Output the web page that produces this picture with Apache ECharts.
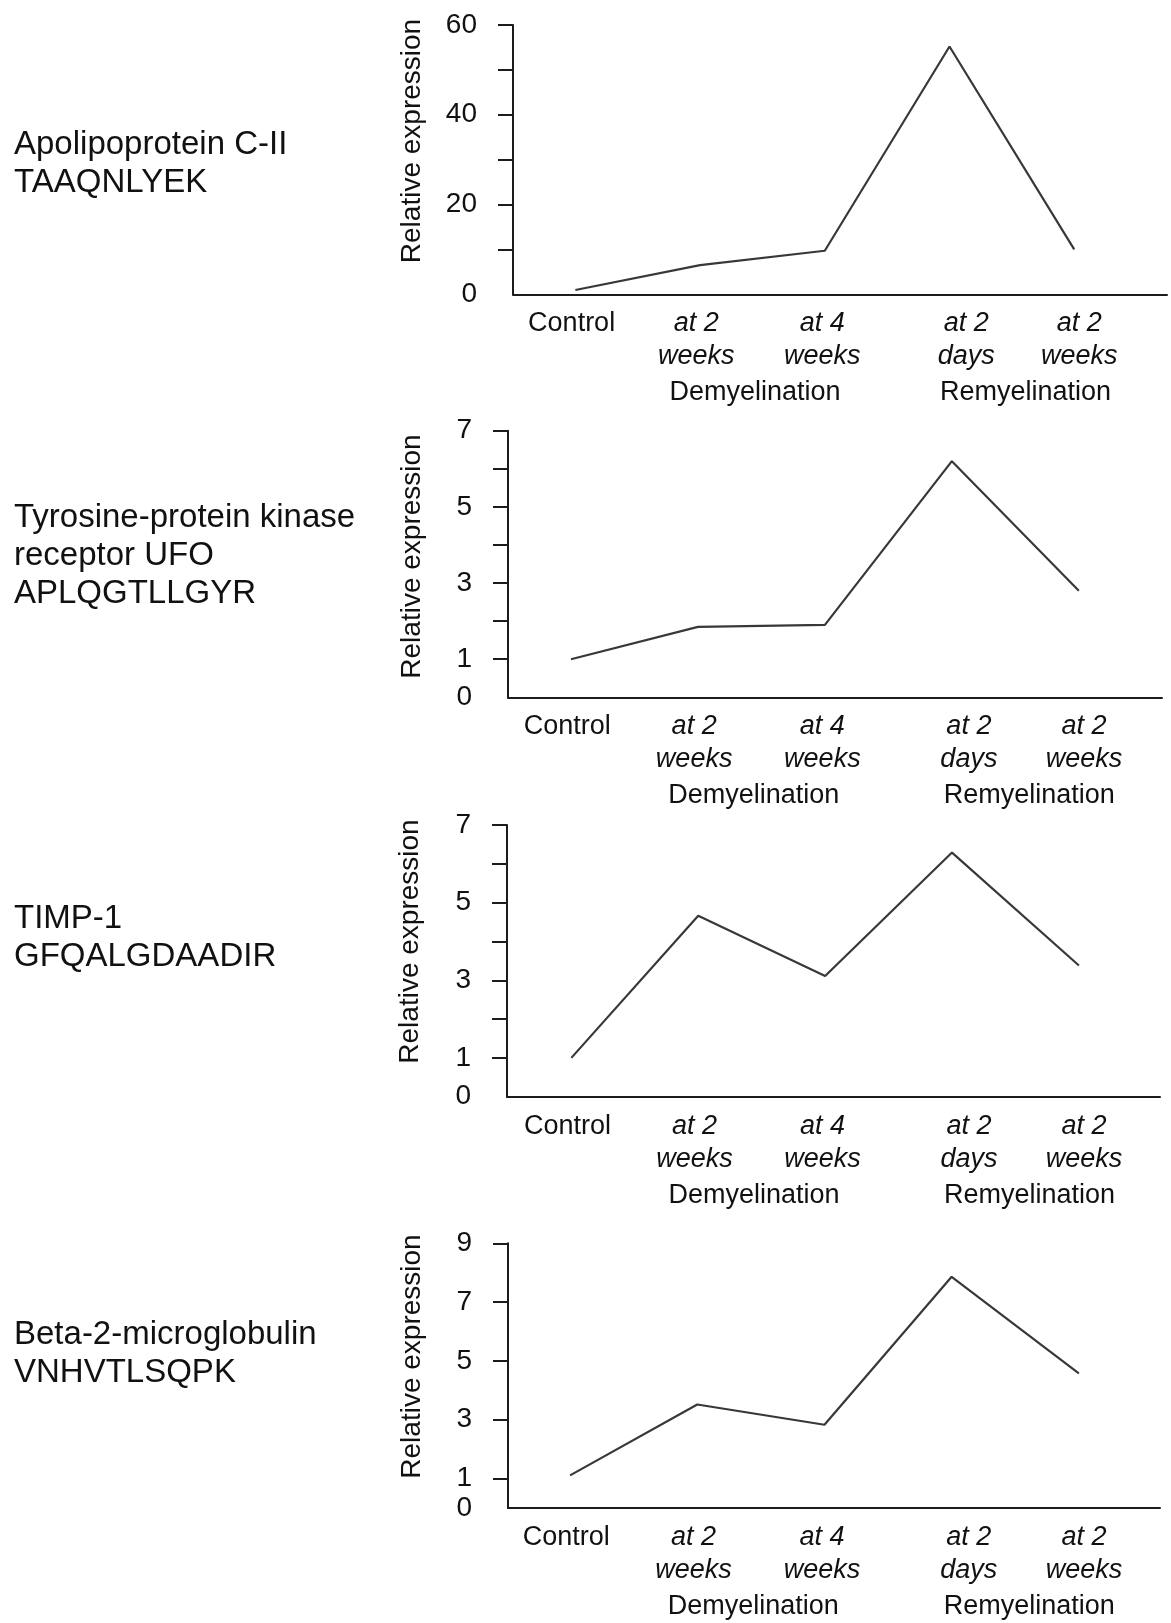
<!DOCTYPE html>
<html><head><meta charset="utf-8">
<script src="https://cdn.jsdelivr.net/npm/echarts@6/dist/echarts.min.js"></script>
<style>html,body{margin:0;padding:0;background:#fff}#c{width:1171px;height:1623px}</style>
</head><body><div id="c"></div>
<script>
// ---------- data ----------
const categories = ['Control', 'at 2\nweeks', 'at 4\nweeks', 'at 2\ndays', 'at 2\nweeks'];
const groups = ['Demyelination', 'Remyelination'];
const proteinNames = [
  'Apolipoprotein C-II\nTAAQNLYEK',
  'Tyrosine-protein kinase\nreceptor UFO\nAPLQGTLLGYR',
  'TIMP-1\nGFQALGDAADIR',
  'Beta-2-microglobulin\nVNHVTLSQPK'
];
const apoC2 = [0.96, 6.5, 9.7, 55.2, 10.0];
const ufo = [1.0, 1.85, 1.9, 6.2, 2.8];
const timp1 = [1.0, 4.66, 3.11, 6.29, 3.38];
const b2m = [1.11, 3.52, 2.83, 7.86, 4.58];
const yMax = [60, 7, 7, 9];
const yInterval = [10, 1, 1, 1];
const yTickValues = [[10, 20, 30, 40, 50, 60], [1, 2, 3, 4, 5, 6, 7], [1, 2, 3, 4, 5, 6, 7], [1, 3, 5, 7, 9]];
const yTickLabels = [[0, 20, 40, 60], [0, 1, 3, 5, 7], [0, 1, 3, 5, 7], [0, 1, 3, 5, 7, 9]];
const yTitle = 'Relative expression';
const seriesData = [apoC2, ufo, timp1, b2m];

// ---------- layout (pixels / offsets, not data) ----------
const panels = [
  {left: 513, right: 4, top: 25, height: 269.3, xmin: -0.50, xmax: 4.744, titleTop: 126, yt: [412, 141]},
  {left: 508, right: 9, top: 430.7, height: 266.6, xmin: -0.496, xmax: 4.655, titleTop: 499, yt: [412, 556.5]},
  {left: 507, right: 11, top: 825, height: 271.7, xmin: -0.507, xmax: 4.639, titleTop: 900, yt: [410, 941.5]},
  {left: 508, right: 11, top: 1243.3, height: 268.2, xmin: -0.488, xmax: 4.638, titleTop: 1316, yt: [412, 1356.5]}
];
const labelShift = [-0.03, -0.03, -0.02, 0.134, 0.04];
const groupPos = [1.44, 3.61];
const FONT = '"Liberation Sans", Arial, sans-serif';
const TXT = '#111';
const AX = '#1c1c1c';

const labelPos = categories.map((c, i) => i + labelShift[i]);
function nearestIdx(arr, v) {
  let best = 0, d = Infinity;
  arr.forEach((a, i) => { const dd = Math.abs(a - v); if (dd < d) { d = dd; best = i; } });
  return best;
}

const option = {
  animation: false,
  backgroundColor: '#fff',
  title: [], grid: [], xAxis: [], yAxis: [], series: [], graphic: []
};

panels.forEach((p, k) => {
  option.title.push({
    text: proteinNames[k], left: 14, top: p.titleTop, padding: 0,
    textStyle: {fontFamily: FONT, fontSize: 33, lineHeight: 38, fontWeight: 'normal', color: TXT}
  });
  option.grid.push({left: p.left, right: p.right, top: p.top, height: p.height, containLabel: false});
  option.xAxis.push({
    type: 'value', gridIndex: k, min: p.xmin, max: p.xmax, position: 'bottom',
    splitLine: {show: false},
    axisLine: {show: true, onZero: false, lineStyle: {color: AX, width: 2}},
    axisTick: {show: false},
    axisLabel: {
      customValues: labelPos, margin: 13, fontFamily: FONT, fontSize: 27, lineHeight: 33,
      fontStyle: 'italic', color: TXT,
      formatter: v => { const i = nearestIdx(labelPos, v); return i === 0 ? '{n|' + categories[i] + '}' : categories[i]; },
      rich: {n: {fontStyle: 'normal', fontFamily: FONT, fontSize: 27, lineHeight: 33, color: TXT}}
    }
  });
  option.xAxis.push({
    type: 'value', gridIndex: k, min: p.xmin, max: p.xmax, position: 'bottom',
    splitLine: {show: false}, axisLine: {show: false}, axisTick: {show: false},
    axisLabel: {
      customValues: groupPos, margin: 82, fontFamily: FONT, fontSize: 27, lineHeight: 33, color: TXT,
      formatter: v => groups[nearestIdx(groupPos, v)]
    }
  });
  option.yAxis.push({
    type: 'value', gridIndex: k, min: 0, max: yMax[k], interval: yInterval[k],
    splitLine: {show: false},
    axisLine: {show: true, onZero: false, lineStyle: {color: AX, width: 2}},
    axisTick: {show: true, customValues: yTickValues[k], length: 15, lineStyle: {color: AX, width: 2}},
    axisLabel: {customValues: yTickLabels[k], margin: 36, fontFamily: FONT, fontSize: 28, color: TXT}
  });
  option.series.push({
    type: 'line', xAxisIndex: 2 * k, yAxisIndex: k, symbol: 'none', silent: true,
    lineStyle: {color: '#383838', width: 2.2},
    data: seriesData[k].map((v, i) => [i, v])
  });
  option.graphic.push({
    type: 'text', x: p.yt[0], y: p.yt[1], rotation: Math.PI / 2, silent: true,
    style: {text: yTitle, fill: TXT, font: '28px ' + FONT, textAlign: 'center', textVerticalAlign: 'middle', align: 'center', verticalAlign: 'middle'}
  });
});

const chart = echarts.init(document.getElementById('c'), null, {renderer: 'canvas'});
chart.setOption(option);
</script>
</body></html>
